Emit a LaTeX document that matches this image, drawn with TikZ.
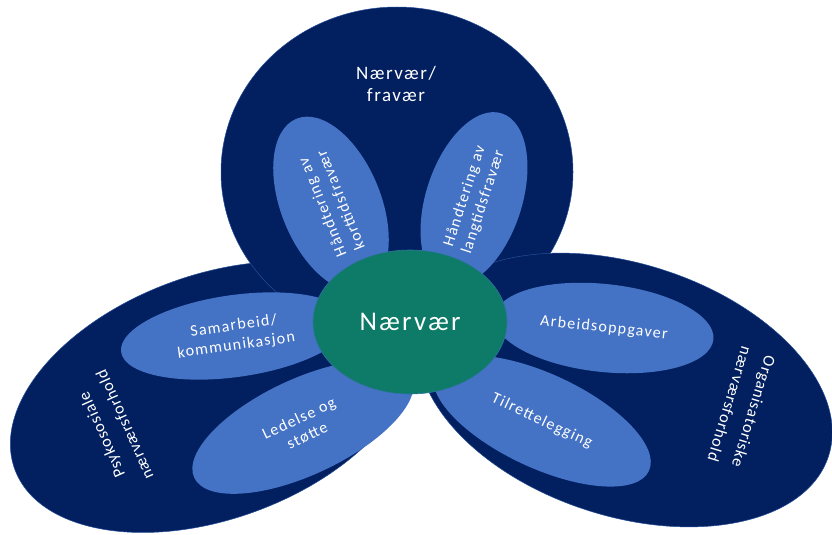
\documentclass[tikz,border=0pt]{standalone}
\usepackage{fontspec}
\setmainfont{Carlito}[LetterSpace=8]
\usetikzlibrary{shapes.geometric}

\definecolor{navy}{RGB}{2,32,96}
\definecolor{petalblue}{RGB}{68,114,196}
\definecolor{coreteal}{RGB}{14,122,104}

\begin{document}
\begin{tikzpicture}[x=1pt,y=-1pt,
  region/.style={ellipse, fill=navy, draw=petalblue!55!navy, line width=0.5pt, inner sep=0pt},
  petalbox/.style={ellipse, fill=petalblue, inner sep=0pt, text=white,
    font=\fontsize{16}{19.5}\selectfont, align=center},
  areatext/.style={text=white, align=center,
    font=\fontsize{16.5}{25}\selectfont\addfontfeatures{LetterSpace=5}},
  corebox/.style={ellipse, fill=coreteal, draw=petalblue!60!coreteal, line width=0.6pt,
    inner sep=0pt, text=white, font=\fontsize{27}{32}\selectfont}
]
\useasboundingbox (0,0) rectangle (832,535);

% three large regions, back to front
\node[region, minimum width=422pt, minimum height=244pt, rotate=20] (psy) at (213,397) {};
\node[region, minimum width=352pt, minimum height=330pt] (fra) at (397,172) {};
\node[region, minimum width=428pt, minimum height=252pt, rotate=-18] (org) at (625,390) {};

% region titles
\node[text=white, align=center, font=\fontsize{19}{22}\selectfont] (fratext) at (396,84) {Nærvær/\\fravær};
\node[areatext, rotate=114] (psytext) at (113,430) {Psykososiale\\nærværsforhold};
\node[areatext, rotate=-107] (orgtext) at (742,408) {Organisatoriske\\nærværsforhold};

% petals
\node[petalbox, minimum width=184pt, minimum height=100pt, rotate=112] (kort) at (331,204) {Håndtering av\\korttidsfravær};
\node[petalbox, minimum width=180pt, minimum height=96pt, rotate=72] (lang) at (474,199) {Håndtering av\\langtidsfravær};
\node[petalbox, minimum width=230pt, minimum height=82pt, rotate=8] (samarb) at (235,336) {Samarbeid/\\kommunikasjon};
\node[petalbox, minimum width=240pt, minimum height=96pt, rotate=25] (ledelse) at (303,427) {Ledelse og\\støtte};
\node[petalbox, minimum width=220pt, minimum height=88pt, rotate=-6] (arbeid) at (604,328) {Arbeidsoppgaver};
\node[petalbox, minimum width=236pt, minimum height=94pt, rotate=-25] (tilr) at (542,421) {Tilrettelegging};

% centre
\node[corebox, minimum width=194pt, minimum height=144pt] (core) at (410,322) {Nærvær};
\end{tikzpicture}
\end{document}
